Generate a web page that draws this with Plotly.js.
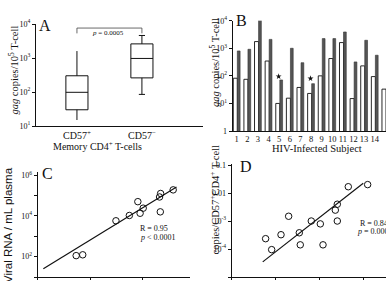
<!DOCTYPE html>
<html>
<head>
<meta charset="utf-8">
<script src="https://cdn.plot.ly/plotly-3.0.1.min.js"></script>
<style>
  html, body { margin: 0; padding: 0; background: #fff; overflow: hidden; }
  #chart { width: 386px; height: 281px; }
</style>
</head>
<body>
<div id="chart"></div>
<script>
// ---- Panel A: gag copies per 10^5 memory CD4+ T-cells (box summaries) ----
const boxLabels = ['CD57<sup>+</sup>', 'CD57<sup>\u2212</sup>'];
const boxLower  = [15, 85];
const boxQ1     = [30, 260];
const boxMedian = [98, 970];
const boxQ3     = [300, 2600];
const boxUpper  = [1600, 4600];
const pValueA   = '0.0005';

// ---- Panel B: per-subject gag copies, CD57+ (open) vs CD57- (filled) ----
const subjects   = [1, 2, 3, 4, 5, 6, 7, 8, 9, 10, 11, 12, 13, 14, 15];
const cd57pos    = [82, 75, 1750, 345, 10, 15.5, 38, 23, 100, 425, 1610, 15, 230, 94, 33];
const cd57neg    = [800, 920, 10700, 2100, 71, 1000, 300, 52, 2240, 2240, 3900, 320, 1950, 560, null];
const starSubj   = [5, 8];
const starLevel  = [95, 80];

// ---- Panel C: viral RNA vs gag copies ----
const cX = [54, 72, 309, 556, 807, 891, 1020, 2090, 2190, 2160, 3800];
const cY = [112, 123, 5750, 10500, 50000, 13500, 24000, 85000, 126000, 15800, 190000];
const cFitX = [12.8, 4400];
const cFitY = [25.7, 263000];

// ---- Panel D: copies per CD57+CD4+ T-cell ----
const dX = [59, 81, 132, 197, 344, 362, 644, 1033, 1189, 2265, 2512, 2512, 4467, 12300];
const dY = [2.34e-4, 9.5e-5, 3.24e-4, 1.48e-3, 3.8e-4, 1.41e-4, 1.0e-3, 7.9e-4, 1.41e-4,
            2.45e-3, 3.98e-3, 1.0e-3, 0.0168, 0.020];
const dFitX = [50.7, 9770];
const dFitY = [3.47e-5, 0.0224];

const W = 386, H = 281;
const px = v => v / W;          // horizontal pixel -> paper
const py = v => 1 - v / H;      // vertical pixel -> paper

const SERIF = 'Liberation Serif, Times New Roman, serif';
const SANS = 'Liberation Sans, Arial, sans-serif';
const INK = '#111';

const traces = [];

// Box plots (A)
boxLabels.forEach((lab, i) => {
  traces.push({
    type: 'box', xaxis: 'x', yaxis: 'y',
    x: [i], q1: [boxQ1[i]], median: [boxMedian[i]], q3: [boxQ3[i]],
    lowerfence: [boxLower[i]], upperfence: [boxUpper[i]],
    width: 0.34, whiskerwidth: i === 0 ? 0 : 0.28,
    boxpoints: false, fillcolor: 'rgba(255,255,255,0)',
    line: { color: INK, width: 1 }, hoverinfo: 'skip'
  });
});
// significance bracket between the two boxes
traces.push({
  type: 'scatter', mode: 'lines', xaxis: 'x', yaxis: 'y',
  x: [0, 0, 1, 1], y: [5300, 7600, 7600, 5300],
  line: { color: '#444', width: 0.8 }, hoverinfo: 'skip'
});

// Bars (B)
traces.push({
  type: 'bar', xaxis: 'x2', yaxis: 'y2', x: subjects, y: cd57pos,
  offset: -0.32, width: 0.38,
  marker: { color: '#fff', line: { color: INK, width: 0.9 } }, hoverinfo: 'skip'
});
traces.push({
  type: 'bar', xaxis: 'x2', yaxis: 'y2', x: subjects, y: cd57neg,
  offset: 0.06, width: 0.26,
  marker: { color: '#555', line: { color: '#333', width: 0.6 } }, hoverinfo: 'skip'
});
traces.push({
  type: 'scatter', mode: 'markers', xaxis: 'x2', yaxis: 'y2',
  x: starSubj.map(s => s - 0.05), y: starLevel,
  marker: { symbol: 'star', size: 4.5, color: INK }, hoverinfo: 'skip', cliponaxis: false
});

// Scatter + fit (C)
traces.push({
  type: 'scatter', mode: 'lines', xaxis: 'x3', yaxis: 'y3', x: cFitX, y: cFitY,
  line: { color: INK, width: 1.2 }, hoverinfo: 'skip'
});
traces.push({
  type: 'scatter', mode: 'markers', xaxis: 'x3', yaxis: 'y3', x: cX, y: cY,
  marker: { symbol: 'circle-open', size: 6.5, color: INK, line: { width: 1, color: INK } },
  hoverinfo: 'skip'
});

// Scatter + fit (D)
traces.push({
  type: 'scatter', mode: 'lines', xaxis: 'x4', yaxis: 'y4', x: dFitX, y: dFitY,
  line: { color: INK, width: 1.2 }, hoverinfo: 'skip'
});
traces.push({
  type: 'scatter', mode: 'markers', xaxis: 'x4', yaxis: 'y4', x: dX, y: dY,
  marker: { symbol: 'circle-open', size: 6.5, color: INK, line: { width: 1, color: INK } },
  hoverinfo: 'skip'
});

const axBase = {
  showline: true, linecolor: INK, linewidth: 1, showgrid: false, zeroline: false,
  tickcolor: INK, tickwidth: 1, tickfont: { family: SERIF, size: 8, color: INK },
  tickangle: 0, fixedrange: true
};
const pow10 = e => '10<sup>' + e + '</sup>';

const layout = {
  width: W, height: H, margin: { l: 0, r: 0, t: 0, b: 0 },
  paper_bgcolor: '#fff', plot_bgcolor: 'rgba(0,0,0,0)', showlegend: false,
  bargap: 0, barmode: 'overlay',
  xaxis: Object.assign({}, axBase, {
    domain: [px(36), px(203)], range: [-0.63, 1.94], anchor: 'y',
    tickvals: [0, 1], ticktext: boxLabels, ticks: '',
    tickfont: { family: SERIF, size: 10, color: INK }
  }),
  yaxis: Object.assign({}, axBase, {
    type: 'log', domain: [py(126), py(24)], range: [1, 4], anchor: 'x',
    tickvals: [10, 100, 1000, 10000], ticktext: [pow10(1), pow10(2), pow10(3), pow10(4)],
    ticks: 'outside', ticklen: 3
  }),
  xaxis2: Object.assign({}, axBase, {
    domain: [px(232.7), 1], range: [0.624, 15.06], anchor: 'y2',
    tickvals: subjects, ticktext: subjects.map(String), ticks: '',
    tickfont: { family: SERIF, size: 8.5, color: INK }
  }),
  yaxis2: Object.assign({}, axBase, {
    type: 'log', domain: [py(131), py(20.7)], range: [0, 4], anchor: 'x2',
    tickvals: [1, 10, 100, 1000, 10000], ticktext: ['1', pow10(1), pow10(2), pow10(3), pow10(4)],
    ticks: 'outside', ticklen: 3
  }),
  xaxis3: Object.assign({}, axBase, {
    type: 'log', domain: [px(37.7), px(190)], range: [1, 3.9], anchor: 'y3',
    tickvals: [10, 100, 1000, 10000], ticktext: [pow10(1), pow10(2), pow10(3), pow10(4)],
    ticks: 'outside', ticklen: 2
  }),
  yaxis3: Object.assign({}, axBase, {
    type: 'log', domain: [py(277), py(171.5)], range: [1, 6.18], anchor: 'x3',
    tickvals: [10, 1e2, 1e3, 1e4, 1e5, 1e6],
    ticktext: ['', pow10(2), '', pow10(4), '', pow10(6)],
    ticks: 'outside', ticklen: 3
  }),
  xaxis4: Object.assign({}, axBase, {
    type: 'log', domain: [px(231.7), 1], range: [1, 4.507], anchor: 'y4',
    tickvals: [10, 100, 1000, 10000], ticktext: [pow10(1), pow10(2), pow10(3), pow10(4)],
    ticks: 'outside', ticklen: 2
  }),
  yaxis4: Object.assign({}, axBase, {
    type: 'log', domain: [py(277), py(164.2)], range: [-5, -0.97], anchor: 'x4',
    tickvals: [1e-5, 1e-4, 1e-3, 0.01, 0.1],
    ticktext: ['', pow10('-4'), pow10('-3'), '0.01', '0.1'],
    ticks: 'outside', ticklen: 3
  }),
  annotations: []
};

function note(text, x, y, opts) {
  layout.annotations.push(Object.assign({
    text: text, x: px(x), y: py(y), xref: 'paper', yref: 'paper',
    showarrow: false, xanchor: 'center', yanchor: 'middle',
    font: { family: SERIF, size: 10, color: INK }
  }, opts || {}));
}

// panel letters
note('A', 45, 25, { font: { family: SERIF, size: 16, color: INK } });
note('B', 241.5, 21, { font: { family: SERIF, size: 16, color: INK } });
note('C', 47.5, 173, { font: { family: SERIF, size: 16, color: INK } });
note('D', 246, 166, { font: { family: SERIF, size: 16, color: INK } });

// axis titles
const gagTitle = '<i>gag</i> copies/10<sup>5</sup> T-cell';
note(gagTitle, 12.5, 70, { textangle: -90, font: { family: SERIF, size: 10.5, color: INK } });
note(gagTitle, 214, 63, { textangle: -90, font: { family: SERIF, size: 10.5, color: INK } });
note('Viral RNA / mL plasma', 8, 225, { textangle: -90, font: { family: SANS, size: 11.5, color: INK } });
note('copies/CD57<sup>+</sup>CD4<sup>+</sup> T-cell', 213.5, 200, { textangle: -90, font: { family: SERIF, size: 10.5, color: INK } });
note('Memory CD4<sup>+</sup> T-cells', 97, 146);
note('HIV-Infected Subject', 316.7, 148, { font: { family: SERIF, size: 10.5, color: INK } });

// statistics
note('<i>p</i> = ' + pValueA, 108.3, 33.3, { font: { family: SERIF, size: 7, color: INK } });
note('R = 0.95', 138, 228.3, { xanchor: 'left', font: { family: SERIF, size: 8, color: INK } });
note('<i>p</i> &lt; 0.0001', 137.7, 237.3, { xanchor: 'left', font: { family: SERIF, size: 8, color: INK } });
note('R = 0.84', 358, 223.3, { xanchor: 'left', font: { family: SERIF, size: 8, color: INK } });
note('<i>p</i> = 0.0001', 355, 231, { xanchor: 'left', font: { family: SERIF, size: 8, color: INK } });

Plotly.newPlot('chart', traces, layout, { staticPlot: true, displayModeBar: false });
</script>
</body>
</html>
